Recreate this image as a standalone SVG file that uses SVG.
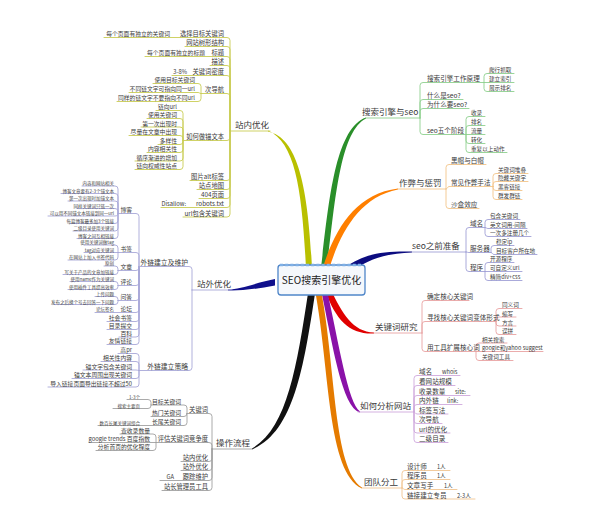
<svg xmlns="http://www.w3.org/2000/svg" width="595" height="510" viewBox="0 0 595 510">
<style>
text{font-family:"Noto Sans CJK SC","Noto Sans",sans-serif;fill:#3a3a3a}
.m{font-size:8.5px}
.a{font-size:6.6px}
.b{font-size:5.6px}
.c{font-size:6.3px;text-anchor:end}
.d{font-size:5.8px;text-anchor:end}
.e{font-size:4.5px;text-anchor:end;fill:#444}
.h{font-size:6.8px;text-anchor:end}
.k path{fill:none;stroke-width:0.9;stroke-linecap:round}
.gA path{stroke:#8fd08f}.gB path{stroke:#f3c58a}.gC path{stroke:#a0a0d6}
.gD path{stroke:#e9a3a3}.gE path{stroke:#cfa8dc}.gF path{stroke:#f0c592}
.gG path{stroke:#c9cd55}.gH path{stroke:#a8a8d8}.gI path{stroke:#a0a0a0}
</style>
<rect width="595" height="510" fill="#fff"/>
<g id="connectors">
<g id="trunks">
<path fill="#b9c000" d="M306 268C302 192 296 143 268 130.5L268 131.5C299 138 308 190 312 268Z"/>
<path fill="#2a8f2a" d="M321 268C329 199 335.5 128.5 366 117.5L366 118.5C340 131.5 335 201 327 268Z"/>
<path fill="#ff7f00" d="M323 267C335 229 356 193.5 398 188.5L398 189.5C360 197 341 231 329 269Z"/>
<path fill="#0c0c80" d="M347.5 265.5C368 253 384 251 412 251.5L412 252.5C386 253.5 372 258 352.5 270.5Z"/>
<path fill="#e00000" d="M325 290C336 321 350 334.5 374 333.5L374 332.5C353 332 342 313 331 290Z"/>
<path fill="#8a12a8" d="M321 290C333 346 342 407 360 412.5L360 411.5C348 403 339 344 327 290Z"/>
<path fill="#e57b00" d="M315 290C330 371 327 472 362 488.5L362 487.5C333 468 336 369 321 290Z"/>
<path fill="#111" d="M308.5 290C296.5 369 287 428 252 448.5L252 449.5C293 432 303.5 371 315.5 290Z"/>
<path fill="#10108c" d="M275 279C255 283 240 289.5 228 289.5L228 290.5C240 291 256 289 275 285.5Z"/>
</g>
<g class="k gA">
<path d="M366 118H420"/>
<path d="M420 118V85.5Q420 82.5 423 82.5H484"/>
<path d="M420 118V102.5Q420 99.5 423 99.5H463"/>
<path d="M420 118V111.5Q420 108.5 423 108.5H469"/>
<path d="M420 118V131.5Q420 134.5 423 134.5H466"/>
<path d="M484 82.5V76.5Q484 73.5 487 73.5H514"/>
<path d="M484 82.5H514"/>
<path d="M484 82.5V88.5Q484 91.5 487 91.5H514"/>
<path d="M466 134.5V119.5Q466 116.5 469 116.5H485"/>
<path d="M466 134.5V128.5Q466 125.5 469 125.5H485"/>
<path d="M466 134.5H485"/>
<path d="M466 134.5V140.5Q466 143.5 469 143.5H485"/>
<path d="M466 134.5V149.5Q466 152.5 469 152.5H507"/>
</g>
<g class="k gB">
<path d="M398 189H446"/>
<path d="M446 189V167.5Q446 164.5 449 164.5H486"/>
<path d="M446 189C447.5 189 447.5 186.5 449 186.5H493"/>
<path d="M446 189V205.5Q446 208.5 449 208.5H479"/>
<path d="M493 186.5V176.5Q493 173.5 496 173.5H528"/>
<path d="M493 186.5V184.5Q493 181.5 496 181.5H528"/>
<path d="M493 186.5V187.5Q493 190.5 496 190.5H522"/>
<path d="M493 186.5V196.5Q493 199.5 496 199.5H522"/>
</g>
<g class="k gC">
<path d="M412 252H466"/>
<path d="M466 252V230.5Q466 227.5 469 227.5H485"/>
<path d="M466 252C467.5 252 467.5 252.5 469 252.5H491"/>
<path d="M466 252V268.5Q466 271.5 469 271.5H485"/>
<path d="M485 227.5V222.5Q485 219.5 488 219.5H520"/>
<path d="M485 227.5C486.5 227.5 486.5 228.5 488 228.5H527"/>
<path d="M485 227.5V233.5Q485 236.5 488 236.5H531"/>
<path d="M491 252.5V248.5Q491 245.5 494 245.5H514"/>
<path d="M491 252.5C492.5 252.5 492.5 254.5 494 254.5H537"/>
<path d="M485 271.5V265.5Q485 262.5 488 262.5H514"/>
<path d="M485 271.5H522"/>
<path d="M485 271.5V277.5Q485 280.5 488 280.5H522"/>
</g>
<g class="k gD">
<path d="M374 333H422"/>
<path d="M422 333V303.5Q422 300.5 425 300.5H469"/>
<path d="M422 333V324.5Q422 321.5 425 321.5H496"/>
<path d="M422 333V348.5Q422 351.5 425 351.5H476"/>
<path d="M496 321.5V311.5Q496 308.5 499 308.5H522"/>
<path d="M496 321.5V320Q496 317 499 317H516"/>
<path d="M496 321.5V323Q496 326 499 326H516"/>
<path d="M496 321.5V331.5Q496 334.5 499 334.5H516"/>
<path d="M476 351.5V346Q476 343 479 343H507"/>
<path d="M476 351.5H543"/>
<path d="M476 351.5V357.5Q476 360.5 479 360.5H513"/>
</g>
<g class="k gE">
<path d="M358 412H414"/>
<path d="M414 412V378.5Q414 375.5 417 375.5H460"/>
<path d="M414 412V388.5Q414 385.5 417 385.5H455"/>
<path d="M414 412V398.5Q414 395.5 417 395.5H470"/>
<path d="M414 412V407.5Q414 404.5 417 404.5H462"/>
<path d="M414 412C415.5 412 415.5 414 417 414H448"/>
<path d="M414 412V420.5Q414 423.5 417 423.5H442"/>
<path d="M414 412V430Q414 433 417 433H450"/>
<path d="M414 412V439.5Q414 442.5 417 442.5H448"/>
</g>
<g class="k gF">
<path d="M362 488H402"/>
<path d="M402 488V473.5Q402 470.5 405 470.5H450"/>
<path d="M402 488V482.5Q402 479.5 405 479.5H450"/>
<path d="M402 488C403.5 488 403.5 489.5 405 489.5H457"/>
<path d="M402 488V496Q402 499 405 499H475"/>
</g>
<g class="k gG">
<path d="M230 131H270"/>
<path d="M230 131V40.5Q230 37.5 227 37.5H104"/>
<path d="M230 131V49.5Q230 46.5 227 46.5H185"/>
<path d="M230 131V59.5Q230 56.5 227 56.5H145"/>
<path d="M230 131V68.5Q230 65.5 227 65.5H210"/>
<path d="M230 131V78.5Q230 75.5 227 75.5H172"/>
<path d="M230 131V96.5Q230 93.5 227 93.5H201"/>
<path d="M230 131V137.5Q230 140.5 227 140.5H183"/>
<path d="M230 131V177.5Q230 180.5 227 180.5H190"/>
<path d="M230 131V186.5Q230 189.5 227 189.5H197"/>
<path d="M230 131V195.5Q230 198.5 227 198.5H199"/>
<path d="M230 131V204.5Q230 207.5 227 207.5H161"/>
<path d="M230 131V214Q230 217 227 217H183"/>
<path d="M201 93.5V86.5Q201 83.5 198 83.5H153"/>
<path d="M201 93.5C199.5 93.5 199.5 92.5 198 92.5H129"/>
<path d="M201 93.5V98.5Q201 101.5 198 101.5H117"/>
<path d="M183 140.5V113.5Q183 110.5 180 110.5H156"/>
<path d="M183 140.5V121.5Q183 118.5 180 118.5H147"/>
<path d="M183 140.5V130Q183 127 180 127H141"/>
<path d="M183 140.5V138.5Q183 135.5 180 135.5H129"/>
<path d="M183 140.5V141.5Q183 144.5 180 144.5H158"/>
<path d="M183 140.5V149.5Q183 152.5 180 152.5H147"/>
<path d="M183 140.5V158Q183 161 180 161H135"/>
<path d="M183 140.5V166.5Q183 169.5 180 169.5H135"/>
</g>
<g class="k gH">
<path d="M192 290H232"/>
<path d="M192 290V269.5Q192 266.5 189 266.5H139"/>
<path d="M192 290V367.5Q192 370.5 189 370.5H139"/>
<path d="M139 266.5V216.5Q139 213.5 136 213.5H118"/>
<path d="M139 266.5V255.5Q139 252.5 136 252.5H118"/>
<path d="M139 266.5V267.5Q139 270.5 136 270.5H118"/>
<path d="M139 266.5V282.5Q139 285.5 136 285.5H118"/>
<path d="M139 266.5V297.5Q139 300.5 136 300.5H118"/>
<path d="M139 266.5V309.5Q139 312.5 136 312.5H95"/>
<path d="M139 266.5V318.5Q139 321.5 136 321.5H107"/>
<path d="M139 266.5V326.5Q139 329.5 136 329.5H107"/>
<path d="M139 266.5V334Q139 337 136 337H119"/>
<path d="M139 266.5V341.5Q139 344.5 136 344.5H107"/>
<path d="M118 213.5V189Q118 186 115 186H82"/>
<path d="M118 213.5V196.5Q118 193.5 115 193.5H61"/>
<path d="M118 213.5V204Q118 201 115 201H68"/>
<path d="M118 213.5V211.5Q118 208.5 115 208.5H77"/>
<path d="M118 213.5C118 215 117 216 115 216H48"/>
<path d="M118 213.5V220.5Q118 223.5 115 223.5H70"/>
<path d="M118 213.5V228Q118 231 115 231H73"/>
<path d="M118 213.5V235.5Q118 238.5 115 238.5H77"/>
<path d="M118 252.5V248Q118 245 115 245H84"/>
<path d="M118 252.5H84"/>
<path d="M118 252.5V257Q118 260 115 260H68"/>
<path d="M118 270.5V269Q118 266 115 266H104"/>
<path d="M118 270.5V271.5Q118 274.5 115 274.5H63"/>
<path d="M118 285.5V284.5Q118 281.5 115 281.5H70"/>
<path d="M118 285.5V286.5Q118 289.5 115 289.5H68"/>
<path d="M118 300.5V299.5Q118 296.5 115 296.5H95"/>
<path d="M118 300.5V301.5Q118 304.5 115 304.5H54"/>
<path d="M139 370.5V356.5Q139 353.5 136 353.5H118"/>
<path d="M139 370.5V364.5Q139 361.5 136 361.5H101"/>
<path d="M139 370.5C138 370.5 137 370 136 370H83"/>
<path d="M139 370.5V375.5Q139 378.5 136 378.5H72"/>
<path d="M139 370.5V384Q139 387 136 387H48"/>
</g>
<g class="k gI">
<path d="M212 449H252"/>
<path d="M212 449V416.5Q212 413.5 209 413.5H187"/>
<path d="M212 449V445.5Q212 442.5 209 442.5H156"/>
<path d="M212 449V458.5Q212 461.5 209 461.5H181"/>
<path d="M212 449V467.5Q212 470.5 209 470.5H181"/>
<path d="M212 449V477.5Q212 480.5 209 480.5H160"/>
<path d="M212 449V487.5Q212 490.5 209 490.5H162"/>
<path d="M187 413.5V408Q187 405 184 405H151"/>
<path d="M187 413.5Q187 416.5 184 416.5H151"/>
<path d="M187 413.5V422.5Q187 425.5 184 425.5H98"/>
<path d="M151 405V402.5Q151 399.5 148 399.5H127"/>
<path d="M151 405V405.5Q151 408.5 148 408.5H113"/>
<path d="M156 442.5V437Q156 434 153 434H120"/>
<path d="M156 442.5H89"/>
<path d="M156 442.5V447.5Q156 450.5 153 450.5H96"/>
</g>
</g>

<g id="center">
<rect x="278" y="265" width="87" height="30" rx="3" fill="#f5f8fc" stroke="#4f86c9" stroke-width="1.3"/>
<line x1="280" y1="265" x2="363" y2="265" stroke="#7fb0e6" stroke-width="2.4" stroke-dasharray="3 2.2"/>
<text x="321.5" y="284" text-anchor="middle" font-size="10" style="fill:#222">SEO搜索引擎优化</text>
</g>

<g id="A-seo"><text class="m" x="362" y="115">搜索引擎与seo</text></g>
<g id="A1"><text class="a" x="427" y="81">搜索引擎工作原理</text></g>
<g id="A1a"><text class="b" x="489" y="72">爬行抓取</text></g>
<g id="A1b"><text class="b" x="489" y="81">建立索引</text></g>
<g id="A1c"><text class="b" x="489" y="90">展示排名</text></g>
<g id="A2"><text class="a" x="427" y="98">什么是seo?</text></g>
<g id="A3"><text class="a" x="427" y="107">为什么要seo?</text></g>
<g id="A4"><text class="a" x="427" y="133">seo五个阶段</text></g>
<g id="A4a"><text class="b" x="471" y="115">收录</text></g>
<g id="A4b"><text class="b" x="471" y="124">排名</text></g>
<g id="A4c"><text class="b" x="471" y="133">流量</text></g>
<g id="A4d"><text class="b" x="471" y="142">转化</text></g>
<g id="A4e"><text class="b" x="471" y="151">重复以上动作</text></g>

<g id="B-cheat"><text class="m" x="399" y="186">作弊与惩罚</text></g>
<g id="B1"><text class="a" x="451" y="163">黑帽与白帽</text></g>
<g id="B2"><text class="a" x="451" y="185">常见作弊手法</text></g>
<g id="B2a"><text class="b" x="498" y="172">关键词堆叠</text></g>
<g id="B2b"><text class="b" x="498" y="180">隐藏关键字</text></g>
<g id="B2c"><text class="b" x="498" y="189">黑客链接</text></g>
<g id="B2d"><text class="b" x="498" y="198">群发群链</text></g>
<g id="B3"><text class="a" x="451" y="207">沙盒效应</text></g>

<g id="C-prep"><text class="m" x="412" y="249">seo之前准备</text></g>
<g id="C1"><text class="a" x="470" y="226">域名</text></g>
<g id="C1a"><text class="b" x="490" y="218">包含关键词</text></g>
<g id="C1b"><text class="b" x="490" y="227">英文词用-间隔</text></g>
<g id="C1c"><text class="b" x="490" y="235">一次多注册几个</text></g>
<g id="C2"><text class="a" x="470" y="251">服务器</text></g>
<g id="C2a"><text class="b" x="496" y="244">稳定ip</text></g>
<g id="C2b"><text class="b" x="496" y="253">目标客户所在地</text></g>
<g id="C3"><text class="a" x="470" y="270">程序</text></g>
<g id="C3a"><text class="b" x="490" y="261">开源程序</text></g>
<g id="C3b"><text class="b" x="490" y="270">可自定义url</text></g>
<g id="C3c"><text class="b" x="490" y="279">精简div+css</text></g>

<g id="D-kw"><text class="m" x="375" y="330">关键词研究</text></g>
<g id="D1"><text class="a" x="427" y="299">确定核心关键词</text></g>
<g id="D2"><text class="a" x="427" y="320">寻找核心关键词变体形式</text></g>
<g id="D2a"><text class="b" x="502" y="307">同义词</text></g>
<g id="D2b"><text class="b" x="502" y="315.5">缩写</text></g>
<g id="D2c"><text class="b" x="502" y="324.5">方言</text></g>
<g id="D2d"><text class="b" x="502" y="333">误拼</text></g>
<g id="D3"><text class="a" x="427" y="350">用工具扩展核心词</text></g>
<g id="D3a"><text class="b" x="482" y="341.5">相关搜索</text></g>
<g id="D3b"><text class="b" x="482" y="350">google和yahoo suggest</text></g>
<g id="D3c"><text class="b" x="482" y="359">关键词工具</text></g>

<g id="E-analyze"><text class="m" x="360" y="409">如何分析网站</text></g>
<g id="E1"><text class="a" x="419" y="374">域名</text><text class="b" x="442" y="374">whois</text></g>
<g id="E2"><text class="a" x="419" y="384">看网站规模</text></g>
<g id="E3"><text class="a" x="419" y="394">收录数量</text><text class="b" x="455" y="394">site:</text></g>
<g id="E4"><text class="a" x="419" y="403">内外链</text><text class="b" x="447" y="403">link:</text></g>
<g id="E5"><text class="a" x="419" y="412.5">标签写法</text></g>
<g id="E6"><text class="a" x="419" y="422">次导航</text></g>
<g id="E7"><text class="a" x="419" y="431.5">url的优化</text></g>
<g id="E8"><text class="a" x="419" y="441">二级目录</text></g>

<g id="F-team"><text class="m" x="364" y="485">团队分工</text></g>
<g id="F1"><text class="a" x="407" y="469">设计师</text><text class="b" x="437" y="469">1人</text></g>
<g id="F2"><text class="a" x="407" y="478">程序员</text><text class="b" x="437" y="478">1人</text></g>
<g id="F3"><text class="a" x="407" y="488">文章写手</text><text class="b" x="444" y="488">1人</text></g>
<g id="F4"><text class="a" x="407" y="497.5">链接建立专员</text><text class="b" x="457" y="497.5">2-3人</text></g>

<g id="G-onsite"><text class="m" x="235" y="128">站内优化</text></g>
<g id="G1"><text class="c" x="224" y="36">选择目标关键词</text><text class="d" x="170" y="36">每个页面有独立的关键词</text></g>
<g id="G2"><text class="c" x="224" y="45">网站树形结构</text></g>
<g id="G3"><text class="c" x="224" y="55">标题</text><text class="d" x="205" y="55">每个页面有独立的标题</text></g>
<g id="G4"><text class="c" x="224" y="64">描述</text></g>
<g id="G5"><text class="c" x="224" y="74">关键词密度</text><text class="d" x="187" y="74">3-8%</text></g>
<g id="G6"><text class="c" x="224" y="92">次导航</text></g>
<g id="G6a"><text class="d" x="195" y="82">使用目标关键词</text></g>
<g id="G6b"><text class="d" x="195" y="91">不同链文字可指向同一url</text></g>
<g id="G6c"><text class="d" x="195" y="100">同样的链文字不要指向不同url</text></g>
<g id="G7"><text class="c" x="224" y="139">如何做锚文本</text></g>
<g id="G7a"><text class="d" x="177" y="109">链向url</text></g>
<g id="G7b"><text class="d" x="177" y="117">使用关键词</text></g>
<g id="G7c"><text class="d" x="177" y="125.5">第一次出现时</text></g>
<g id="G7d"><text class="d" x="177" y="134">尽量在文章中出现</text></g>
<g id="G7e"><text class="d" x="177" y="143">多样性</text></g>
<g id="G7f"><text class="d" x="177" y="151">内容相关性</text></g>
<g id="G7g"><text class="d" x="177" y="159.5">循序渐进的增加</text></g>
<g id="G7h"><text class="d" x="177" y="168">链向权威性站点</text></g>
<g id="G8"><text class="c" x="224" y="179">图片alt标签</text></g>
<g id="G9"><text class="c" x="224" y="188">站点地图</text></g>
<g id="G10"><text class="c" x="224" y="197">404页面</text></g>
<g id="G11"><text class="c" x="224" y="206">robots.txt</text><text class="d" x="186" y="206">Disallow:</text></g>
<g id="G12"><text class="c" x="224" y="215.5">url包含关键词</text></g>

<g id="H-offsite"><text class="m" x="197" y="287">站外优化</text></g>
<g id="H1"><text class="h" x="188" y="265">外链建立及维护</text></g>
<g id="H1-blog"><text class="d" x="132" y="212">博客</text></g>
<g id="H1-blog-1"><text class="e" x="114" y="185">内容和网站相关</text></g>
<g id="H1-blog-2"><text class="e" x="114" y="192.5">博客文章要有2-3个锚文本</text></g>
<g id="H1-blog-3"><text class="e" x="114" y="200">第一次出现时加锚文本</text></g>
<g id="H1-blog-4"><text class="e" x="114" y="207.5">同样关键词只链一次</text></g>
<g id="H1-blog-5"><text class="e" x="114" y="215">可以用不同锚文本链接到同一url</text></g>
<g id="H1-blog-6"><text class="e" x="114" y="222.5">每篇博客最多加3个链接</text></g>
<g id="H1-blog-7"><text class="e" x="114" y="230">二级目录使用关键词</text></g>
<g id="H1-blog-8"><text class="e" x="114" y="237.5">博客之间互相链接</text></g>
<g id="H1-bm"><text class="d" x="132" y="251">书签</text></g>
<g id="H1-bm-1"><text class="e" x="114" y="244">使用关键词做tag</text></g>
<g id="H1-bm-2"><text class="e" x="114" y="251.5">tag对应关键词</text></g>
<g id="H1-bm-3"><text class="e" x="114" y="259">在网站上加入书签代码</text></g>
<g id="H1-art"><text class="d" x="132" y="269">文章</text></g>
<g id="H1-art-1"><text class="e" x="114" y="265">原创</text></g>
<g id="H1-art-2"><text class="e" x="114" y="273.5">写关于产品的文章加链接</text></g>
<g id="H1-cmt"><text class="d" x="132" y="284">评论</text></g>
<g id="H1-cmt-1"><text class="e" x="114" y="280.5">使用name作为关键词</text></g>
<g id="H1-cmt-2"><text class="e" x="114" y="288.5">使用插件工具提高效率</text></g>
<g id="H1-qa"><text class="d" x="132" y="299">问答</text></g>
<g id="H1-qa-1"><text class="e" x="114" y="295.5">上传问题</text></g>
<g id="H1-qa-2"><text class="e" x="114" y="303.5">发布之后换个号去回答一下问题</text></g>
<g id="H1-forum"><text class="d" x="132" y="311">论坛</text><text class="e" x="114" y="311">论坛签名</text></g>
<g id="H1-sb"><text class="d" x="132" y="320">社会书签</text></g>
<g id="H1-dir"><text class="d" x="132" y="328">目录提交</text></g>
<g id="H1-wiki"><text class="d" x="132" y="335.5">百科</text></g>
<g id="H1-fl"><text class="d" x="132" y="343">友情链接</text></g>
<g id="H2"><text class="h" x="188" y="369">外链建立策略</text></g>
<g id="H2a"><text class="d" x="132" y="352">高pr</text></g>
<g id="H2b"><text class="d" x="132" y="360">相关性内容</text></g>
<g id="H2c"><text class="d" x="132" y="368.5">锚文字包含关键词</text></g>
<g id="H2d"><text class="d" x="132" y="377">锚文本周围出现关键词</text></g>
<g id="H2e"><text class="d" x="132" y="385.5">导入链接页面导出链接不超过50</text></g>

<g id="I-ops"><text class="m" x="216" y="446">操作流程</text></g>
<g id="I1"><text class="c" x="208" y="412">关键词</text></g>
<g id="I1a"><text class="d" x="181" y="403.5">目标关键词</text></g>
<g id="I1a-1"><text class="e" x="140" y="398.5">1-3个</text></g>
<g id="I1a-2"><text class="e" x="140" y="407.5">搜索主要页</text></g>
<g id="I1b"><text class="d" x="181" y="415">热门关键词</text></g>
<g id="I1c"><text class="d" x="181" y="424">长尾关键词</text><text class="e" x="140" y="424.5">数百长尾关键词组合</text></g>
<g id="I2"><text class="c" x="208" y="441">评估关键词竞争度</text></g>
<g id="I2a"><text class="d" x="150" y="432.5">查收录数量</text></g>
<g id="I2b"><text class="d" x="150" y="441">google trends 百度指数</text></g>
<g id="I2c"><text class="d" x="150" y="449">分析首页的优化程度</text></g>
<g id="I3"><text class="c" x="208" y="460">站内优化</text></g>
<g id="I4"><text class="c" x="208" y="469">站外优化</text></g>
<g id="I5"><text class="c" x="208" y="479">跟踪维护</text><text class="d" x="174" y="479">GA</text></g>
<g id="I6"><text class="c" x="208" y="489">站长管理员工具</text></g>
</svg>
